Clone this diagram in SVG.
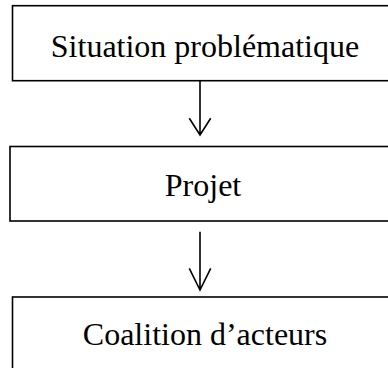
<svg xmlns="http://www.w3.org/2000/svg" width="388" height="368" viewBox="0 0 388 368">
<style>
.box{fill:#fff;stroke:#000;stroke-width:1.6}
.lbl{font-family:"Liberation Serif","Times New Roman",serif;font-size:32px;fill:#000;text-anchor:middle}
.con{fill:none;stroke:#000;stroke-width:1.6}
</style>
<rect width="388" height="368" fill="#fff"/>
<g id="node-situation">
<rect class="box" x="12.5" y="5.7" width="385" height="75"/>
<text class="lbl" x="205" y="56.5">Situation problématique</text>
</g>
<g id="node-projet">
<rect class="box" x="10" y="146.5" width="386" height="74.5"/>
<text class="lbl" x="203" y="196">Projet</text>
</g>
<g id="node-coalition">
<rect class="box" x="12.5" y="297" width="385" height="75"/>
<text class="lbl" x="205" y="345">Coalition d’acteurs</text>
</g>
<g id="connectors">
<path class="con" d="M200 81V135M189.3 118.3L200 135L210.7 118.3"/>
<path class="con" d="M200 231.7V290M189.3 268.3L200 290L210.7 268.3"/>
</g>
</svg>
